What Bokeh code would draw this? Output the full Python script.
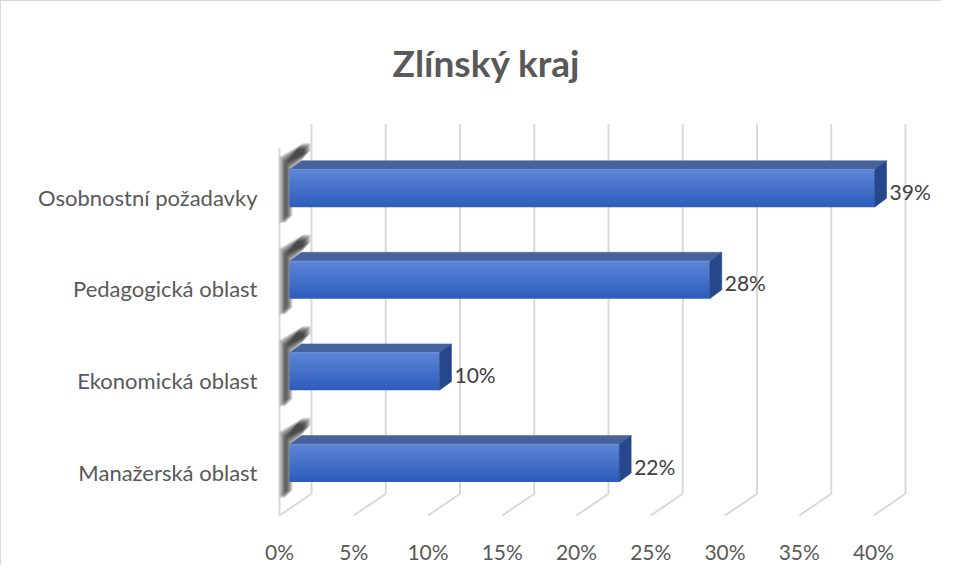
from bokeh.plotting import figure
from bokeh.models import ColumnDataSource, FixedTicker, Range1d, Label
from bokeh.embed import file_html
from bokeh.resources import INLINE
from bokeh.core.properties import value

# ---------------- data ----------------
title_text = "Zlínský kraj"
categories = ["Manažerská oblast", "Ekonomická oblast", "Pedagogická oblast", "Osobnostní požadavky"]
values = [22.2, 10.1, 28.3, 39.4]
value_labels = ["22%", "10%", "28%", "39%"]
tick_values = [0, 5, 10, 15, 20, 25, 30, 35, 40]
tick_labels = ["0%", "5%", "10%", "15%", "20%", "25%", "30%", "35%", "40%"]

# ---------------- geometry (pixel -> data helpers) ----------------
SX = 14.85   # px per percent
SY = 92.7    # px per category step
def px_x(p):
    return p / SX
def px_y(p):
    return p / SY

W, H = 941, 565
FRAME_L, FRAME_T, FRAME_B = 276, 20, 522     # canvas pixels
X0PX, Y0PX = 278, 476                        # canvas pixel of x=0 / y=0

BAR_X0 = px_x(10)
DDX, DDY = px_x(12), px_y(9)
FACE_BOT, FACE_TOP = -px_y(10), px_y(28)
WALL_DX = px_x(32)
FLOOR_FRONT = -px_y(44)
WALL_BOT = -px_y(22)
WALL_TOP = px_y(352)
LEFT_TOP = px_y(328)

FONT = "Lato"
GRID = "#d9d9d9"
TXT = "#595959"

p = figure(width=W, height=H, output_backend="svg", toolbar_location=None,
           x_range=Range1d(px_x(FRAME_L - X0PX), px_x(W - X0PX)),
           y_range=Range1d(px_y(Y0PX - FRAME_B), px_y(Y0PX - FRAME_T)),
           min_border_left=FRAME_L, min_border_right=0, min_border_top=FRAME_T,
           min_border_bottom=H - FRAME_B)
p.styles = {"border-left": "1px solid #d9d9d9", "border-top": "1px solid #d9d9d9"}
p.outline_line_color = None
p.grid.visible = False
p.background_fill_color = "white"

# ---------------- walls / gridlines ----------------
xs, ys = [], []
for t in tick_values:
    xs.append([t + WALL_DX, t + WALL_DX, t])
    ys.append([WALL_TOP, WALL_BOT, FLOOR_FRONT])
xs.append([0, 0])
ys.append([FLOOR_FRONT, LEFT_TOP])
p.multi_line(xs, ys, line_color=GRID, line_width=2)

# ---------------- blurred shadows at the bar ends ----------------
n = len(categories)
core = [(285, 19), (291, 19), (291, -28), (302, -40), (302, -48), (295, -48), (285, -34)]
for grow in [7, 6, 5, 4, 3, 2, 1, 0]:
    sxs, sys_ = [], []
    for c in range(n):
        pts = []
        for a, b in core:
            cx, cy = 292, -15
            da = -grow if a < cx else grow
            db = -grow if b < cy else grow
            pts.append((a + da, b + db))
        sxs.append([px_x(a - X0PX) for a, b in pts])
        sys_.append([c - px_y(b) for a, b in pts])
    p.patches(sxs, sys_, fill_color="#0a0a0a", fill_alpha=0.15, line_color=None)

# ---------------- bars ----------------
def lerp(c1, c2, f):
    a = [int(c1[i:i + 2], 16) for i in (1, 3, 5)]
    b = [int(c2[i:i + 2], 16) for i in (1, 3, 5)]
    return "#%02x%02x%02x" % tuple(round(a[k] + (b[k] - a[k]) * f) for k in range(3))

top_col, bot_col = "#5c84d6", "#2e5dbc"
NB = 14
ql, qr, qb, qt, qc = [], [], [], [], []
for c, v in enumerate(values):
    h = (FACE_TOP - FACE_BOT) / NB
    for k in range(NB):
        ql.append(BAR_X0)
        qr.append(BAR_X0 + v)
        qt.append(c + FACE_TOP - k * h)
        qb.append(max(c + FACE_TOP - (k + 1.6) * h, c + FACE_BOT))
        qc.append(lerp(top_col, bot_col, k / (NB - 1)))
p.quad(left=ql, right=qr, bottom=qb, top=qt, fill_color=qc, line_color=None)

# top face and right side face
txs, tys, rxs, rys = [], [], [], []
for c, v in enumerate(values):
    x0, x1 = BAR_X0, BAR_X0 + v
    txs.append([x0, x1, x1 + DDX, x0 + DDX])
    tys.append([c + FACE_TOP, c + FACE_TOP, c + FACE_TOP + DDY, c + FACE_TOP + DDY])
    rxs.append([x1, x1, x1 + DDX, x1 + DDX])
    rys.append([c + FACE_BOT, c + FACE_TOP, c + FACE_TOP + DDY, c + FACE_BOT + DDY])
p.patches(txs, tys, fill_color="#47639e", line_color="#47639e", line_width=0.5)
p.patches(rxs, rys, fill_color="#26478c", line_color="#26478c", line_width=0.5)
p.segment([BAR_X0] * n, [c + FACE_TOP for c in range(n)],
          [BAR_X0 + v for v in values], [c + FACE_TOP for c in range(n)],
          line_color="#7096e0", line_width=1)

# ---------------- value labels ----------------
src = ColumnDataSource(dict(x=[BAR_X0 + v + DDX + px_x(3) for v in values],
                            y=[c + px_y(6) for c in range(n)], t=value_labels))
p.text(x="x", y="y", text="t", source=src, text_font=value(FONT), text_font_size="21px",
       text_color="#404040", text_baseline="middle", text_align="left")

# ---------------- title ----------------
p.add_layout(Label(x=px_x(485 - X0PX), y=px_y(Y0PX - 62), text=title_text, text_font=FONT,
                   text_font_size="37px", text_font_style="bold", text_color=TXT,
                   text_align="center", text_baseline="middle"))

# ---------------- axes ----------------
xa = p.xaxis[0]
xa.ticker = FixedTicker(ticks=tick_values)
xa.major_label_overrides = {t: l for t, l in zip(tick_values, tick_labels)}
xa.axis_line_color = None
xa.major_tick_line_color = None
xa.minor_tick_line_color = None
xa.major_tick_out = 0
xa.major_label_standoff = 21
xa.major_label_text_font = FONT
xa.major_label_text_font_size = "21px"
xa.major_label_text_color = TXT

ya = p.yaxis[0]
ya.ticker = FixedTicker(ticks=list(range(n)))
ya.major_label_overrides = {i: cat for i, cat in enumerate(categories)}
ya.axis_line_color = None
ya.major_tick_line_color = None
ya.minor_tick_line_color = None
ya.major_tick_out = 0
ya.major_label_standoff = 20
ya.major_label_text_font = FONT
ya.major_label_text_font_size = "22px"
ya.major_label_text_color = TXT

open("out.html", "w").write(file_html(p, INLINE))
